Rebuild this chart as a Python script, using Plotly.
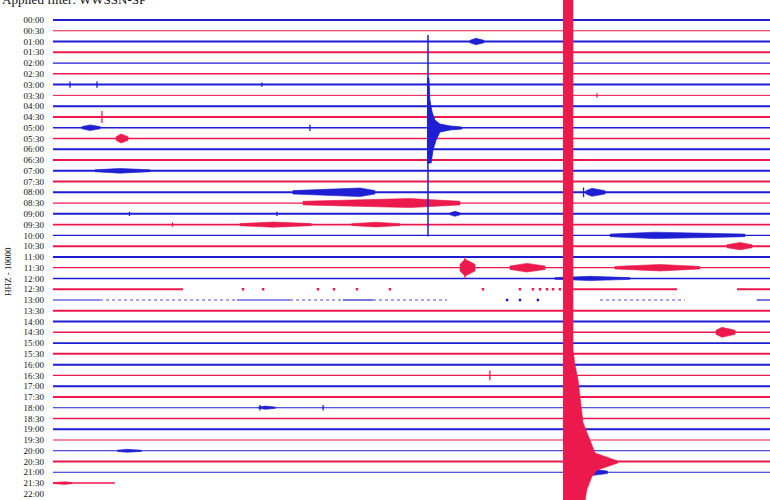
import plotly.graph_objects as go

# ---------------- data (time in minutes within each 30-min row, row index from top) ----------------
row_labels = ["00:00", "00:30", "01:00", "01:30", "02:00", "02:30", "03:00", "03:30", "04:00", "04:30",
              "05:00", "05:30", "06:00", "06:30", "07:00", "07:30", "08:00", "08:30", "09:00", "09:30",
              "10:00", "10:30", "11:00", "11:30", "12:00", "12:30", "13:00", "13:30", "14:00", "14:30",
              "15:00", "15:30", "16:00", "16:30", "17:00", "17:30", "18:00", "18:30", "19:00", "19:30",
              "20:00", "20:30", "21:00", "21:30", "22:00"]

# recorded trace segments (row, start minute, end minute)
seg_row = [0, 1, 2, 3, 4, 5, 6, 7, 8, 9, 10, 11, 12, 13, 14, 15, 16, 17, 18, 19, 20, 21, 22, 23, 24,
           25, 25, 25,
           26, 26, 26, 26,
           27, 28, 29, 30, 31, 32, 33, 34, 35, 36, 37, 38, 39, 40, 41, 42,
           43]
seg_start = [0] * 25 + [0.0, 21.76, 28.62] + [0.0, 7.70, 12.13, 29.45] + [0] * 16 + [0.0]
seg_end = [30] * 25 + [5.44, 26.11, 30.0] + [1.97, 9.92, 13.39, 30.0] + [30] * 16 + [2.59]

# faint (sparse) trace portions
faint_row = [26, 26, 26, 26]
faint_start = [1.97, 9.92, 13.39, 22.89]
faint_end = [7.70, 12.13, 16.49, 26.44]

# isolated dots on gapped rows
dot_row = [25] * 13 + [26] * 3
dot_time = [7.95, 8.79, 11.09, 11.76, 12.72, 14.10, 17.99, 19.54, 20.08, 20.38, 20.67, 20.92, 21.21,
            19.00, 19.54, 20.29]

# bursts: row, onset, peak, end (minutes), half amplitude (rows)
ev_row = [2, 10, 11, 14, 16, 16, 17, 18, 19, 19, 20, 21, 23, 23, 23, 24, 29, 36, 42, 40, 43]
ev_start = [17.45, 1.21, 2.64, 1.76, 10.04, 22.30, 10.46, 16.61, 7.82, 12.50, 23.31, 28.20, 17.03, 19.12, 23.51, 21.00, 27.74, 8.6, 21.8, 2.7, 0.0]
ev_peak = [17.70, 1.55, 2.85, 2.80, 12.85, 22.55, 14.94, 16.82, 9.20, 13.50, 25.19, 28.74, 17.24, 19.83, 25.40, 22.47, 27.99, 8.9, 22.6, 3.1, 0.5]
ev_end = [18.03, 1.97, 3.14, 4.06, 13.47, 23.10, 17.03, 17.03, 10.80, 14.52, 28.95, 29.25, 17.66, 20.59, 27.07, 24.14, 28.54, 9.3, 23.2, 3.7, 0.8]
ev_amp = [0.30, 0.26, 0.42, 0.22, 0.40, 0.37, 0.42, 0.23, 0.24, 0.22, 0.30, 0.34, 0.78, 0.40, 0.30, 0.20, 0.46, 0.15, 0.28, 0.14, 0.12]

# short spikes: row, minute, half amplitude (rows)
sp_row = [9, 6, 6, 6, 33, 10, 7, 36, 36, 16, 18, 18, 19, 23]
sp_time = [2.05, 0.71, 1.84, 8.74, 18.28, 10.75, 22.76, 8.66, 11.30, 22.2, 3.2, 9.37, 5.0, 17.24]
sp_amp = [0.56, 0.3, 0.3, 0.2, 0.45, 0.3, 0.2, 0.25, 0.25, 0.45, 0.2, 0.2, 0.2, 1.0]

# large local event on 05:00 row (outline read from the record)
bq_time = [15.65, 15.73, 15.77, 15.86, 15.98, 16.19, 16.61, 17.11, 17.11, 16.61, 16.19, 16.03, 15.90, 15.82, 15.65]
bq_row = [5.39, 5.39, 7.43, 8.54, 9.29, 9.66, 9.84, 9.94, 10.12, 10.21, 10.40, 11.14, 12.07, 13.28, 13.28]
bq_spike_time = 15.69
bq_spike_top = 1.4
bq_spike_bottom = 20.1

# great teleseism on 20:30 row, clipping across all rows
rq_time = [21.34, 21.76, 21.76, 21.84, 21.97, 22.05, 22.18, 22.47, 22.68, 23.64, 23.64, 22.76, 22.55, 22.34, 22.20, 21.34]
rq_row = [-2.5, -2.5, 30.6, 32.0, 33.4, 35.0, 37.4, 39.0, 40.2, 40.95, 41.13, 41.8, 42.4, 43.6, 45.5, 45.5]

# ---------------- styling ----------------
BLUE = "#1e1ed2"
RED = "#ec1a4c"
row_width = [2.0, 1.0, 2.0, 2.0, 1.1, 1.5, 2.0, 1.0, 2.0, 2.0,
             1.6, 1.6, 2.0, 2.0, 2.0, 2.0, 2.0, 1.3, 2.0, 1.6,
             1.2, 2.0, 2.0, 1.3, 1.6, 2.0, 1.2, 2.0, 2.0, 1.4,
             1.6, 2.0, 2.0, 1.2, 2.0, 2.0, 1.1, 1.5, 2.0, 1.1,
             1.1, 2.0, 1.1, 1.5, 1.0]


def col(r):
    return BLUE if r % 2 == 0 else RED


fig = go.Figure()

for r, s, e in zip(seg_row, seg_start, seg_end):
    fig.add_trace(go.Scatter(x=[s, e], y=[r, r], mode="lines",
                             line=dict(color=col(r), width=row_width[r]), hoverinfo="skip"))

for r, s, e in zip(faint_row, faint_start, faint_end):
    fig.add_trace(go.Scatter(x=[s, e], y=[r, r], mode="lines",
                             line=dict(color=col(r), width=1.2, dash="dot"), opacity=0.8, hoverinfo="skip"))

fig.add_trace(go.Scatter(x=dot_time, y=dot_row, mode="markers",
                         marker=dict(color=[col(r) for r in dot_row], size=2.5, symbol="square"),
                         hoverinfo="skip"))

for r, s, p, e, a in zip(ev_row, ev_start, ev_peak, ev_end, ev_amp):
    fig.add_trace(go.Scatter(x=[s, s, p, e, e, p, s, s],
                             y=[r, r - 0.4 * a, r - a, r - 0.4 * a, r + 0.4 * a, r + a, r + 0.4 * a, r],
                             mode="lines", fill="toself", fillcolor=col(r),
                             line=dict(color=col(r), width=0.6), hoverinfo="skip"))

for r, t, a in zip(sp_row, sp_time, sp_amp):
    fig.add_trace(go.Scatter(x=[t, t], y=[r - a, r + a], mode="lines",
                             line=dict(color=col(r), width=1.3), hoverinfo="skip"))

fig.add_trace(go.Scatter(x=[bq_spike_time, bq_spike_time], y=[bq_spike_top, bq_spike_bottom],
                         mode="lines", line=dict(color=BLUE, width=1.5), hoverinfo="skip"))
fig.add_trace(go.Scatter(x=bq_time, y=bq_row, mode="lines", fill="toself", fillcolor=BLUE,
                         line=dict(color=BLUE, width=0.8), hoverinfo="skip"))

fig.add_trace(go.Scatter(x=rq_time, y=rq_row, mode="lines", fill="toself", fillcolor=RED,
                         line=dict(color=RED, width=0.5), hoverinfo="skip"))

fig.update_layout(
    width=770, height=500,
    margin=dict(l=53, r=0, t=0, b=0, autoexpand=False),
    paper_bgcolor="white", plot_bgcolor="white",
    showlegend=False,
    xaxis=dict(range=[0, 30], visible=False, fixedrange=True),
    yaxis=dict(range=[44.57, -1.857], tickmode="array", tickvals=list(range(len(row_labels))),
               ticktext=row_labels, showgrid=False, zeroline=False, showline=False, ticks="",
               ticklabelstandoff=8, automargin=False,
               tickfont=dict(family="Liberation Serif", size=9, color="#111111")),
    annotations=[
        dict(text="Applied filter: WWSSN-SP", xref="paper", yref="paper", x=0, y=1,
             xanchor="left", yanchor="top", xshift=-53, yshift=10, showarrow=False,
             font=dict(family="Liberation Serif", size=13, color="#111111")),
        dict(text="HHZ - 10000", xref="paper", yref="paper", x=0, y=1 - 272 / 500,
             xanchor="center", yanchor="middle", xshift=-45, textangle=-90, showarrow=False,
             font=dict(family="Liberation Serif", size=9, color="#111111")),
    ],
)

fig.write_html("out.html", config={"displayModeBar": False},
               post_script="document.body.style.margin='0';")
